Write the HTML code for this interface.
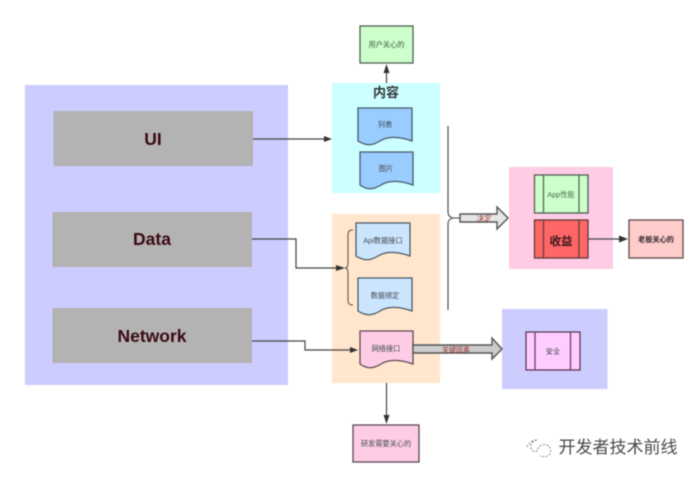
<!DOCTYPE html>
<html><head><meta charset="utf-8"><style>
html,body{margin:0;padding:0;background:#fff;width:700px;height:479px;overflow:hidden}
svg{display:block;filter:blur(.45px)}
text{font-family:"Liberation Sans","Noto Sans CJK SC",sans-serif;text-anchor:middle}
.n{fill:#3f4a55;font-size:7.2px}
.b{fill:#3a0a12;font-size:17.5px;font-weight:bold}
.l{stroke:#444;stroke-width:1.2;fill:none}
</style></head><body>
<svg width="700" height="479" viewBox="0 0 700 479" xmlns="http://www.w3.org/2000/svg">
<rect width="700" height="479" fill="#fff"/>
<rect x="25" y="85" width="263" height="300" fill="#ccccff"/>
<rect x="53.500" y="111" width="199.500" height="55" fill="#b3b3b3"/>
<rect x="52.500" y="212" width="199.500" height="55" fill="#b3b3b3"/>
<rect x="52.500" y="308" width="199.500" height="55" fill="#b3b3b3"/>
<text class="b" x="153" y="145">UI</text>
<text class="b" x="152" y="245">Data</text>
<text class="b" x="152" y="342">Network</text>
<rect x="332" y="83" width="108" height="110" fill="#ccffff"/>
<rect x="332" y="214" width="108" height="169" fill="#ffe6cc"/>
<rect x="509" y="167" width="104" height="102" fill="#ffcce6"/>
<rect x="502" y="309" width="105.500" height="80" fill="#ccccff"/>

<rect x="360" y="26" width="53" height="37" fill="#ccffcc" stroke="#4f5f50" stroke-width="1.300"/>
<text class="n" x="386.500" y="47" style="fill:#3d5a40">用户关心的</text>
<path class="l" d="M386.500 83V68"/><path d="M386.500 64l-3 9h6z" fill="#333"/>
<text x="386" y="97" font-size="13" font-weight="bold" fill="#33343a">内容</text>

<path d="M358 108h54v33C398 136 388 136 380 141C372 146 366 146 358 141z" fill="#99ccff" stroke="#4a5a68" stroke-width="1.300"/>
<text class="n" x="385" y="127">列表</text>
<path d="M360 152h53v33C399 180 389 180 381 185C373 190 367 190 360 185z" fill="#99ccff" stroke="#4a5a68" stroke-width="1.300"/>
<text class="n" x="386" y="171">图片</text>
<path d="M356 223h54v33C396 251 386 251 378 256C370 261 364 261 356 256z" fill="#cce5ff" stroke="#4a5a68" stroke-width="1.300"/>
<text class="n" x="383" y="243">Api数据接口</text>
<path d="M358 278h54v33C398 306 388 306 380 311C372 316 366 316 358 311z" fill="#cce5ff" stroke="#4a5a68" stroke-width="1.300"/>
<text class="n" x="385" y="298">数据绑定</text>
<path d="M360 331h53v33C399 359 389 359 381 364C373 369 367 369 360 364z" fill="#ffcce6" stroke="#5a4a55" stroke-width="1.300"/>
<text class="n" x="386" y="351">网络接口</text>

<path class="l" d="M253 139H328"/><path d="M332 139l-8-3v6z" fill="#333"/>
<path class="l" d="M252 239H296V268H340"/><path d="M345 268l-9-3v6z" fill="#333"/>
<path class="l" d="M252 341H305V350H352"/><path d="M358 350l-8-3v6z" fill="#333"/>

<path d="M353 230h-1q-4 0-4 5v28q0 5-3 5q3 0 3 5v27q0 5 4 5h1" fill="none" stroke="#555040" stroke-width="1"/>
<path d="M448 126V212q0 5 5 6h7M448 310V224q0-5 5-6" fill="none" stroke="#444" stroke-width="1.100"/>

<path d="M460 214h37v-7l11 11-11 11v-7h-37z" fill="#e6e6e6" stroke="#555" stroke-width="1.400"/>
<text x="484" y="221" font-size="7.500" fill="#a03030">决定</text>
<path d="M413 345h79v-7l10 11-10 10v-6h-79z" fill="#cccccc" stroke="#555" stroke-width="1.400"/>
<text x="456" y="352" font-size="7" fill="#a03030">关键因素</text>

<rect x="534.500" y="175" width="53.500" height="38" fill="#ccffcc" stroke="#4f5f50" stroke-width="1.300"/>
<path d="M543.500 175v38M579 175v38" stroke="#4f5f50" stroke-width="1.200"/>
<text class="n" x="561" y="197" style="fill:#4a6a50">App性能</text>
<rect x="534.500" y="220" width="53.500" height="38" fill="#ff6666" stroke="#5a3a3a" stroke-width="1.300"/>
<path d="M543.500 220v38M579 220v38" stroke="#5a3a3a" stroke-width="1.200"/>
<text x="561" y="245" font-size="11.500" font-weight="bold" fill="#3a1a1a">收益</text>
<path class="l" d="M588 239H622"/><path d="M628 239l-9-3.500v7z" fill="#333"/>
<rect x="629" y="220" width="54" height="38" fill="#ffcccc" stroke="#5a4a4a" stroke-width="1.300"/>
<text class="n" x="656" y="242" font-weight="bold" style="fill:#33282a">老板关心的</text>

<rect x="526" y="332" width="54" height="38" fill="#ffccff" stroke="#5a3a5a" stroke-width="1.300"/>
<path d="M535 332v38M570.500 332v38" stroke="#5a3a5a" stroke-width="1.200"/>
<text class="n" x="553" y="354">安全</text>

<path class="l" d="M386.500 383V420"/><path d="M386.500 424l-3-9h6z" fill="#333"/>
<rect x="353" y="425" width="66" height="37" fill="#ffcce6" stroke="#5a4a55" stroke-width="1.300"/>
<text class="n" x="386" y="446">研发需要关心的</text>

<g fill="none" stroke="#888" stroke-width="1" stroke-dasharray="2 1.500">
<path d="M527 447c2-5 6-7 10-7M537 440c-5 1-7 5-6 8 1 2 2 3 3 4"/>
<path d="M536 452c2-5 6-9 11-7 4 2 5 7 2 10-2 2-6 2-9 1"/>
</g>
<text x="618" y="453" font-size="17" fill="#4a4a4a" style="font-family:'Noto Sans CJK SC',sans-serif">开发者技术前线</text>
</svg>
</body></html>
